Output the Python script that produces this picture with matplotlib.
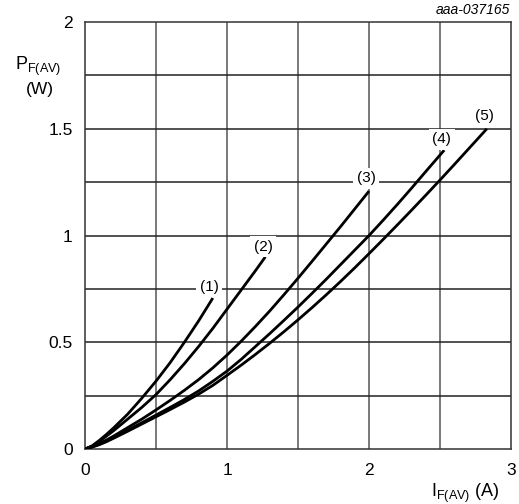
import numpy as np
import matplotlib
matplotlib.use("Agg")
import matplotlib.pyplot as plt

plt.rcParams['font.family'] = ['Liberation Sans', 'DejaVu Sans']
plt.rcParams['mathtext.fontset'] = 'custom'
plt.rcParams['mathtext.rm'] = 'Liberation Sans'

# values
i1 = [0, 0.05, 0.1, 0.15, 0.2, 0.3, 0.4, 0.5, 0.6, 0.7, 0.8, 0.9]
p1 = [0, 0.015, 0.04, 0.068, 0.098, 0.163, 0.238, 0.318, 0.405, 0.5, 0.6, 0.707]

i2 = [0, 0.05, 0.1, 0.15, 0.2, 0.3, 0.4, 0.5, 0.6, 0.7, 0.8, 0.9, 1.0, 1.1, 1.2, 1.27]
p2 = [0, 0.013, 0.035, 0.06, 0.085, 0.14, 0.195, 0.255, 0.325, 0.4, 0.48, 0.565,
      0.655, 0.745, 0.835, 0.9]

i3 = [0, 0.05, 0.1, 0.15, 0.2, 0.3, 0.4, 0.5, 0.6, 0.7, 0.8, 0.9, 1.0,
      1.1, 1.2, 1.3, 1.4, 1.5, 1.6, 1.7, 1.8, 1.9, 2.0]
p3 = [0, 0.011, 0.025, 0.042, 0.06, 0.1, 0.14, 0.183, 0.228, 0.275, 0.325, 0.38, 0.44,
      0.505, 0.574, 0.646, 0.722, 0.8, 0.88, 0.961, 1.042, 1.125, 1.208]

i4 = [0, 0.05, 0.1, 0.15, 0.2, 0.3, 0.4, 0.5, 0.6, 0.7, 0.8, 0.9, 1.0, 1.1, 1.2,
      1.3, 1.4, 1.5, 1.6, 1.7, 1.8, 1.9, 2.0, 2.1, 2.2, 2.3, 2.4, 2.53]
p4 = [0, 0.01, 0.022, 0.037, 0.053, 0.088, 0.123, 0.159, 0.195, 0.232, 0.272, 0.317,
      0.365, 0.42, 0.48, 0.54, 0.602, 0.665, 0.73, 0.796, 0.864, 0.932, 1.0, 1.072,
      1.146, 1.222, 1.3, 1.4]

i5 = [0, 0.05, 0.1, 0.15, 0.2, 0.3, 0.4, 0.5, 0.6, 0.7, 0.8, 0.9, 1.0, 1.1, 1.2,
      1.3, 1.4, 1.5, 1.6, 1.7, 1.8, 1.9, 2.0, 2.1, 2.2, 2.3, 2.4, 2.5, 2.6, 2.7, 2.83]
p5 = [0, 0.009, 0.02, 0.034, 0.05, 0.083, 0.117, 0.151, 0.185, 0.22, 0.257, 0.298,
      0.345, 0.393, 0.443, 0.495, 0.549, 0.605, 0.663, 0.723, 0.785, 0.849, 0.915,
      0.982, 1.05, 1.119, 1.189, 1.26, 1.332, 1.405, 1.5]

curves = [(i1, p1), (i2, p2), (i3, p3), (i4, p4), (i5, p5)]
labels = ["(1)", "(2)", "(3)", "(4)", "(5)"]
label_pos = [(0.873, 0.76), (1.256, 0.948), (1.979, 1.268), (2.512, 1.452), (2.81, 1.56)]

fig = plt.figure(figsize=(5.19, 5.04), dpi=100)
ax = fig.add_axes([0.1638, 0.1091, 0.8208, 0.8472])

ax.set_xlim(0, 3)
ax.set_ylim(0, 2)

# grid
for gx in np.arange(0.5, 3, 0.5):
    ax.axvline(gx, color="#555555", lw=1.1, zorder=1)
for gy in np.arange(0.25, 2, 0.25):
    ax.axhline(gy, color="#222222", lw=1.1, zorder=1)

for xs, ys in curves:
    ax.plot(xs, ys, color="black", lw=2.0, zorder=3, solid_capstyle="butt",
            solid_joinstyle="round")

for lab, (lx, ly) in zip(labels, label_pos):
    ax.text(lx, ly, lab, ha="center", va="center", fontsize=11, zorder=4,
            bbox=dict(facecolor="white", edgecolor="none", pad=2.5))

ax.set_xticks([0, 1, 2, 3])
ax.set_yticks([0, 0.5, 1, 1.5, 2])
ax.set_yticklabels(["0", "0.5", "1", "1.5", "2"])
ax.tick_params(length=0, labelsize=12.5)
ax.tick_params(axis="y", pad=9)
ax.tick_params(axis="x", pad=10)
for sp in ax.spines.values():
    sp.set_color("#333333")
    sp.set_linewidth(1.1)

fig.text(0.074, 0.868, r"$\mathregular{P_{F(AV)}}$", fontsize=13, ha="center", va="center")
fig.text(0.077, 0.823, "(W)", fontsize=12.5, ha="center", va="center")
fig.text(0.962, 0.022, r"$\mathregular{I_{F(AV)}}$ (A)", fontsize=13, ha="right", va="center")
fig.text(0.983, 0.98, "aaa-037165", fontsize=10, style="italic", ha="right", va="center")

fig.savefig("out.png", dpi=100)
